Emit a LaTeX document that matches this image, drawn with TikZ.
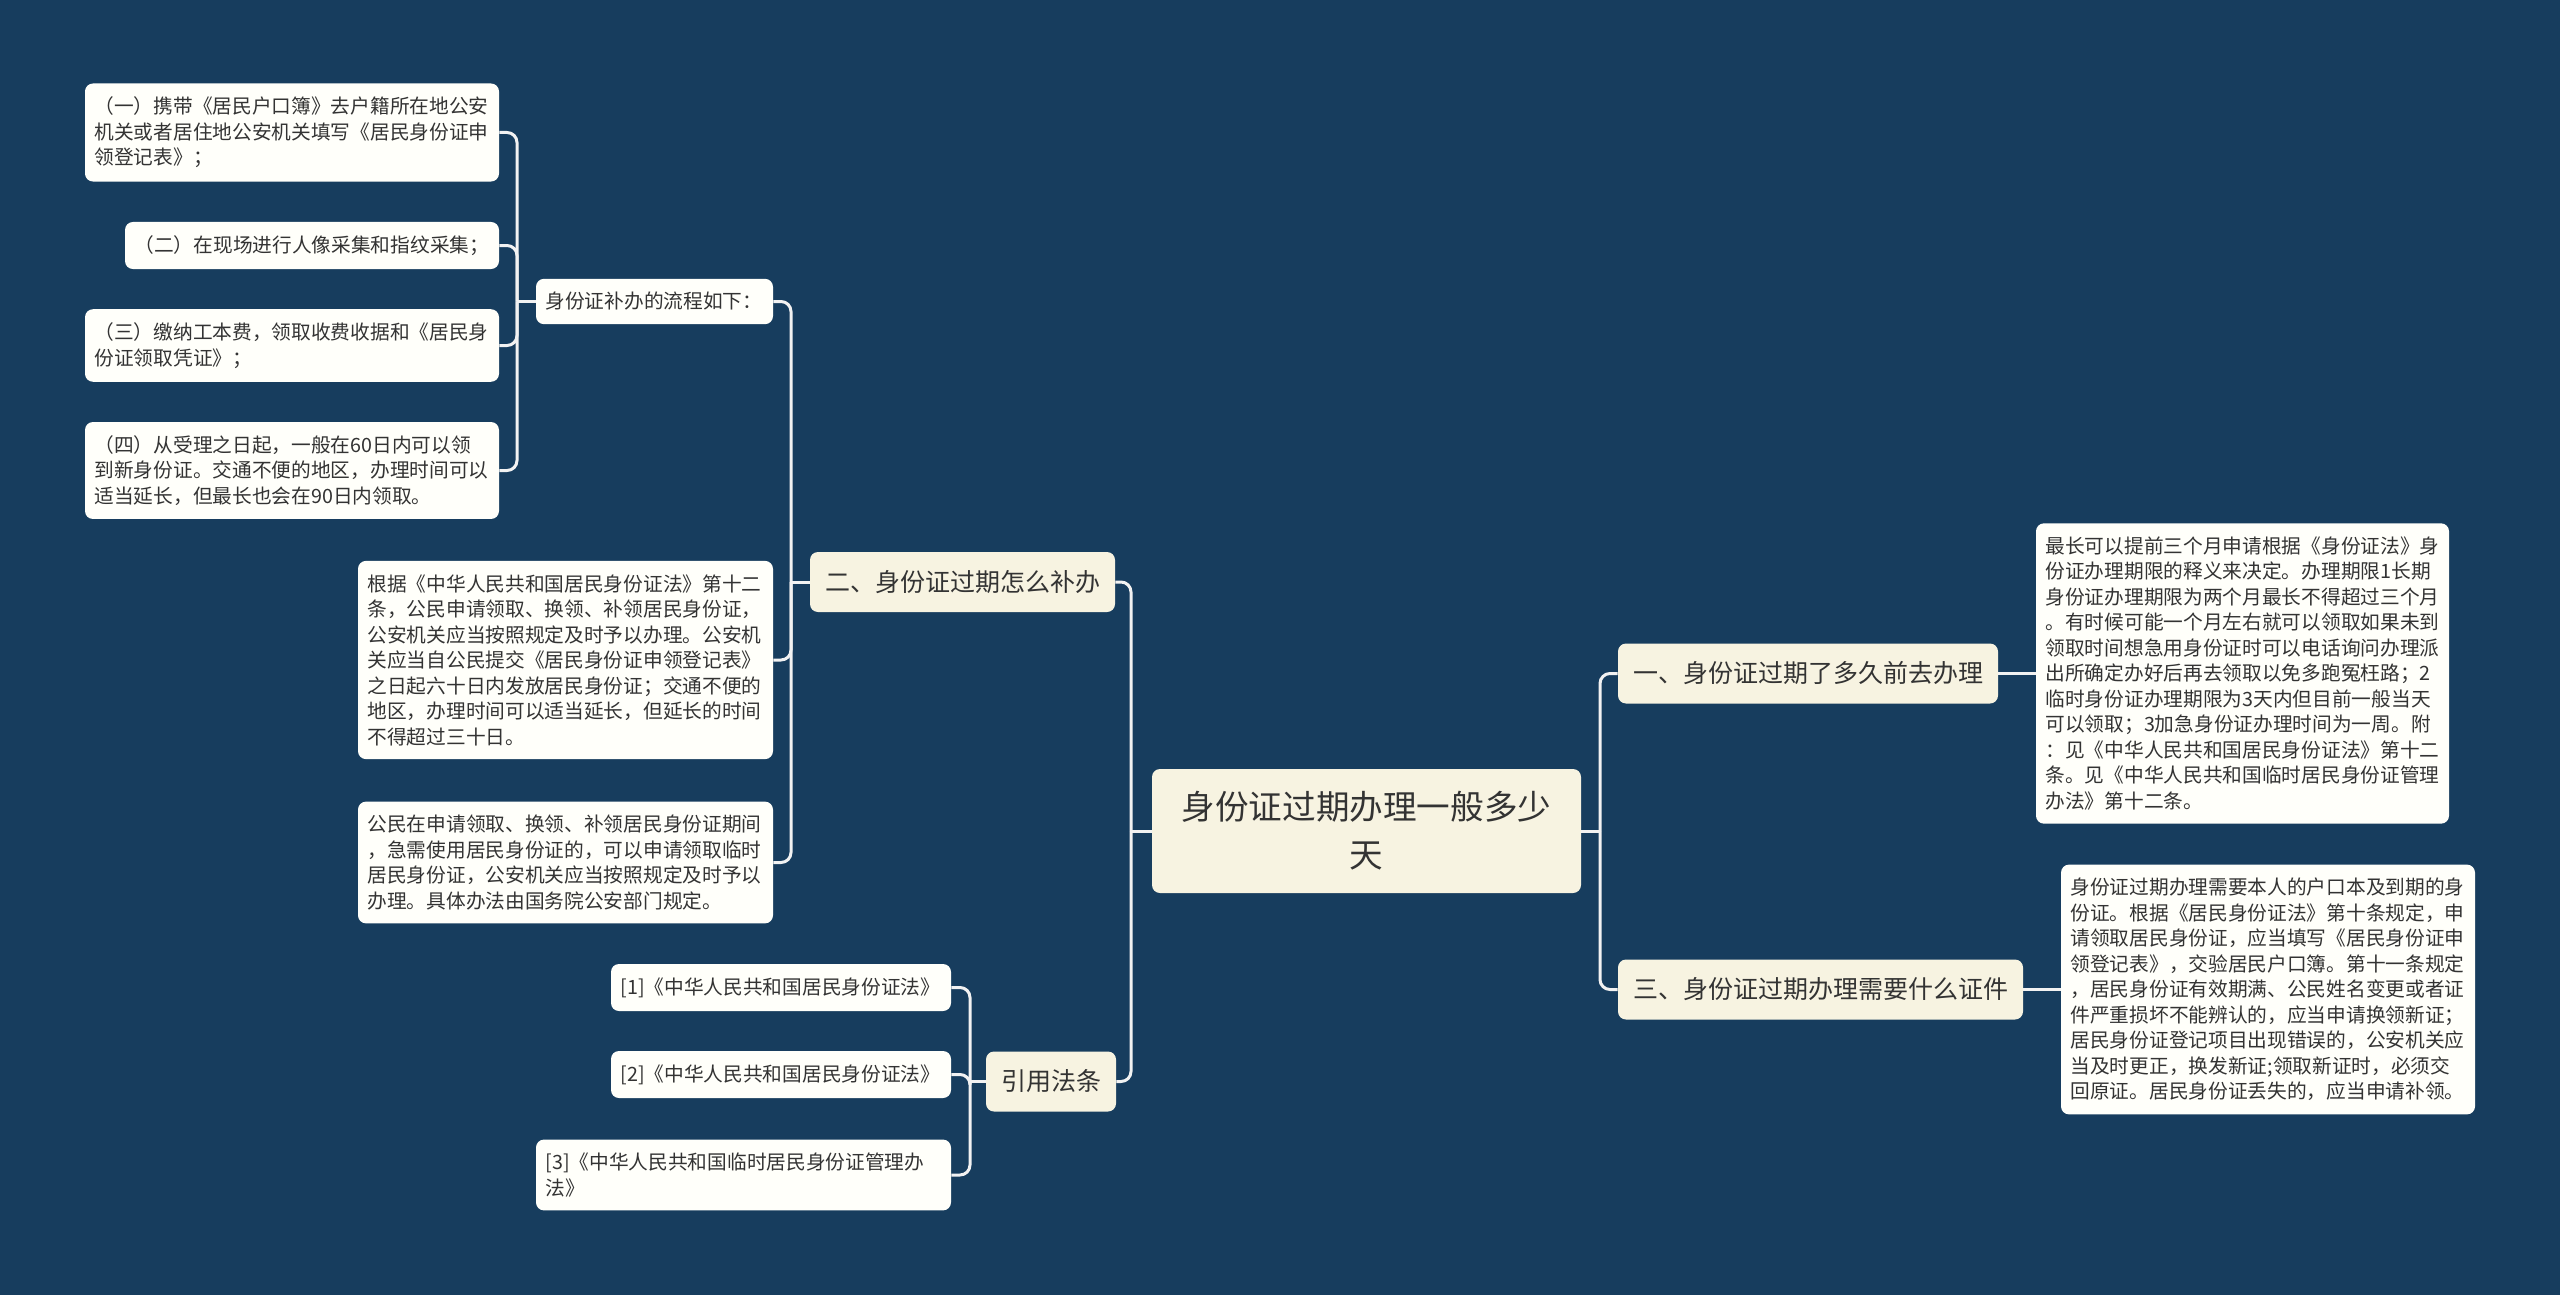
\documentclass[tikz,border=0pt]{standalone}
\usepackage{fontspec}
\setmainfont{Noto Sans CJK SC}

\definecolor{bgblue}{HTML}{173D5E}
\definecolor{cream}{HTML}{F7F3E1}
\definecolor{paper}{HTML}{FFFFFA}
\definecolor{ink}{HTML}{333333}
\definecolor{wire}{HTML}{F2F2F2}

\tikzset{
  titlebox/.style={fill=cream, rounded corners=4pt, text=ink, align=center,
    text width=186pt, minimum width=214.5pt, minimum height=62pt,
    font=\fontsize{16.8}{24}\selectfont},
  topicbox/.style={fill=cream, rounded corners=4pt, text=ink,
    inner xsep=7.5pt, minimum height=30pt, font=\fontsize{12.5}{15}\selectfont},
  leafbox/.style={fill=paper, rounded corners=4pt, text=ink, align=left,
    inner xsep=4.75pt, inner ysep=6.75pt, font=\fontsize{9.85}{12.75}\selectfont},
  branch/.style={draw=wire, line width=1.5pt, rounded corners=5pt},
}

\begin{document}
\begin{tikzpicture}[x=0.5pt, y=-0.5pt]
  \fill[bgblue] (0,0) rectangle (2560,1295);
  \useasboundingbox (0,0) rectangle (2560,1295);

  % centre and first level
  \node[titlebox] (title) at (1366.5,831) {身份证过期办理一般多少\\天};
  \node[topicbox] (howlong) at (1808,673.5) {一、身份证过期了多久前去办理};
  \node[topicbox] (papers) at (1820.5,989.5) {三、身份证过期办理需要什么证件};
  \node[topicbox] (reissue) at (962.5,582) {二、身份证过期怎么补办};
  \node[topicbox] (laws) at (1051,1081.5) {引用法条};

  % right side texts
  \node[leafbox, text width=197pt] (howlongtxt) at (2242.5,673.5)
    {最长可以提前三个月申请根据《身份证法》身\\
     份证办理期限的释义来决定。办理期限1长期\\
     身份证办理期限为两个月最长不得超过三个月\\
     。有时候可能一个月左右就可以领取如果未到\\
     领取时间想急用身份证时可以电话询问办理派\\
     出所确定办好后再去领取以免多跑冤枉路；2\\
     临时身份证办理期限为3天内但目前一般当天\\
     可以领取；3加急身份证办理时间为一周。附\\
     ：见《中华人民共和国居民身份证法》第十二\\
     条。见《中华人民共和国临时居民身份证管理\\
     办法》第十二条。};
  \node[leafbox, text width=197.5pt] (paperstxt) at (2268,989.5)
    {身份证过期办理需要本人的户口本及到期的身\\
     份证。根据《居民身份证法》第十条规定，申\\
     请领取居民身份证，应当填写《居民身份证申\\
     领登记表》，交验居民户口簿。第十一条规定\\
     ，居民身份证有效期满、公民姓名变更或者证\\
     件严重损坏不能辨认的，应当申请换领新证；\\
     居民身份证登记项目出现错误的，公安机关应\\
     当及时更正，换发新证;领取新证时，必须交\\
     回原证。居民身份证丢失的，应当申请补领。};

  % left side, reissue
  \node[leafbox, text width=109pt] (steps) at (654.5,301.5) {身份证补办的流程如下：};
  \node[leafbox, text width=198pt] (art) at (565.5,660)
    {根据《中华人民共和国居民身份证法》第十二\\
     条，公民申请领取、换领、补领居民身份证，\\
     公安机关应当按照规定及时予以办理。公安机\\
     关应当自公民提交《居民身份证申领登记表》\\
     之日起六十日内发放居民身份证；交通不便的\\
     地区，办理时间可以适当延长，但延长的时间\\
     不得超过三十日。};
  \node[leafbox, text width=198pt] (temp) at (565.5,862.5)
    {公民在申请领取、换领、补领居民身份证期间\\
     ，急需使用居民身份证的，可以申请领取临时\\
     居民身份证，公安机关应当按照规定及时予以\\
     办理。具体办法由国务院公安部门规定。};

  \node[leafbox, text width=197.5pt] (stepa) at (292,132.5)
    {（一）携带《居民户口簿》去户籍所在地公安\\
     机关或者居住地公安机关填写《居民身份证申\\
     领登记表》；};
  \node[leafbox, text width=177.5pt] (stepb) at (312,245.5)
    {（二）在现场进行人像采集和指纹采集；};
  \node[leafbox, text width=197.5pt] (stepc) at (292,345.5)
    {（三）缴纳工本费，领取收费收据和《居民身\\
     份证领取凭证》；};
  \node[leafbox, text width=197.5pt] (stepd) at (292,470.5)
    {（四）从受理之日起，一般在60日内可以领\\
     到新身份证。交通不便的地区，办理时间可以\\
     适当延长，但最长也会在90日内领取。};

  % left side, laws
  \node[leafbox, text width=160.5pt] (lawa) at (781,987.5) {[1]《中华人民共和国居民身份证法》};
  \node[leafbox, text width=160.5pt] (lawb) at (781,1074.5) {[2]《中华人民共和国居民身份证法》};
  \node[leafbox, text width=198pt] (lawc) at (743.5,1175)
    {[3]《中华人民共和国临时居民身份证管理办\\法》};

  % connectors
  \coordinate (lsplit) at (1131,831);
  \coordinate (rsplit) at (1600,831);
  \coordinate (reissuesplit) at (791,582);
  \coordinate (stepsplit) at (517,301.5);
  \coordinate (lawsplit) at (970,1081.5);

  \draw[branch] (title.east) -- (rsplit);
  \draw[branch] (rsplit) |- (howlong.west);
  \draw[branch] (rsplit) |- (papers.west);
  \draw[branch] (howlong.east) -- (howlongtxt.west);
  \draw[branch] (papers.east) -- (paperstxt.west);

  \draw[branch] (title.west) -- (lsplit);
  \draw[branch] (lsplit) |- (reissue.east);
  \draw[branch] (lsplit) |- (laws.east);

  \draw[branch] (reissue.west) -- (reissuesplit);
  \foreach \n in {steps,art,temp}
    \draw[branch] (reissuesplit) |- (\n.east);
  \draw[branch] (steps.west) -- (stepsplit);
  \foreach \n in {stepa,stepb,stepc,stepd}
    \draw[branch] (stepsplit) |- (\n.east);

  \draw[branch] (laws.west) -- (lawsplit);
  \foreach \n in {lawa,lawb,lawc}
    \draw[branch] (lawsplit) |- (\n.east);
\end{tikzpicture}
\end{document}
